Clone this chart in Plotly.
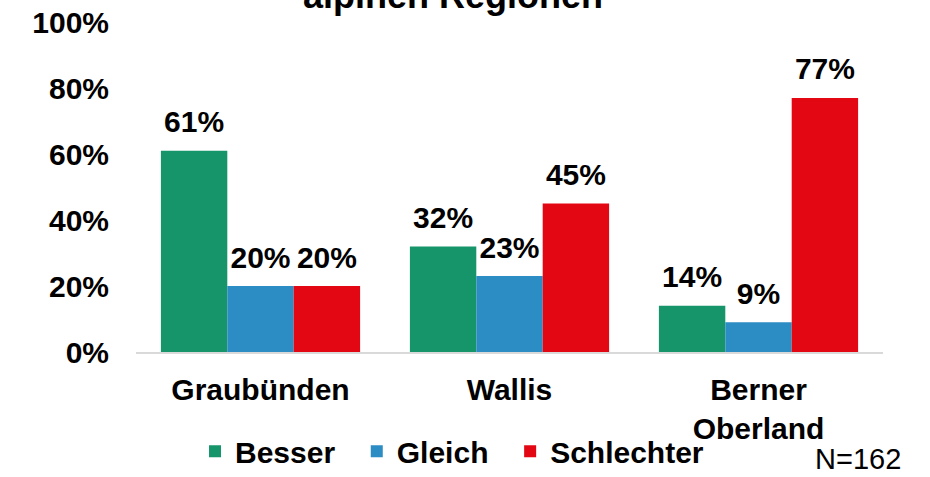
import plotly.graph_objects as go

categories = ["Graubünden", "Wallis", "Berner<br>Oberland"]
series_names = ["Besser", "Gleich", "Schlechter"]
besser = [61, 32, 14]
gleich = [20, 23, 9]
schlechter = [20, 45, 77]
tick_values = [0, 20, 40, 60, 80, 100]
tick_labels = ["0%", "20%", "40%", "60%", "80%", "100%"]
colors = ["#16956B", "#2B8DC4", "#E30713"]
title_text = "alpinen Regionen"
note_text = "N=162"

FONT = "Liberation Sans, Arial, sans-serif"
NB = "\u00a0"
legend_pad = [NB * 2, NB * 2, ""]

fig = go.Figure()
for name, vals, col, pad in zip(series_names, [besser, gleich, schlechter], colors, legend_pad):
    fig.add_trace(go.Bar(
        x=categories, y=vals, name=name + pad,
        marker=dict(color=col, line=dict(width=0)),
        offsetgroup=name,
    ))
for name, vals in zip(series_names, [besser, gleich, schlechter]):
    fig.add_trace(go.Scatter(
        x=categories, y=vals, mode="markers+text",
        text=[f"{v}%" for v in vals], textposition="top center",
        marker=dict(size=16, opacity=0),
        textfont=dict(family=FONT, size=30, color="black", weight="bold"),
        offsetgroup=name, showlegend=False, hoverinfo="skip",
    ))

fig.update_layout(
    width=930, height=477,
    margin=dict(l=136, r=47, t=22, b=125, autoexpand=False),
    paper_bgcolor="white", plot_bgcolor="white",
    barmode="group", bargap=0.2, bargroupgap=0,
    scattermode="group", scattergap=0.2,
    font=dict(family=FONT, color="black"),
    showlegend=True,
    legend=dict(
        orientation="h", x=0.079, xanchor="left",
        yref="container", y=0.054, yanchor="middle",
        font=dict(family=FONT, size=30, color="black", weight="bold"),
        bgcolor="rgba(0,0,0,0)", traceorder="normal",
    ),
    xaxis=dict(
        showline=True, linecolor="#D9D9D9", linewidth=2, ticks="",
        showgrid=False, zeroline=False, automargin=False,
        tickfont=dict(family=FONT, size=30, color="black", weight="bold"),
        ticklabelstandoff=10,
    ),
    yaxis=dict(
        range=[0, 100], tickvals=tick_values, ticktext=tick_labels,
        showgrid=False, zeroline=False, showline=False, ticks="",
        automargin=False,
        tickfont=dict(family=FONT, size=30, color="black", weight="bold"),
        ticklabelstandoff=26,
    ),
)

fig.add_annotation(
    text=title_text, xref="paper", yref="paper", x=0.424, y=1.012,
    xanchor="center", yanchor="bottom", showarrow=False,
    font=dict(family=FONT, size=36, color="black", weight="bold"),
)
fig.add_annotation(
    text=note_text, xref="paper", yref="paper", x=1.027, y=-0.38,
    xanchor="right", yanchor="bottom", showarrow=False,
    font=dict(family=FONT, size=29, color="black"),
)

fig.write_html("out.html", config={"displayModeBar": False},
               post_script="document.body.style.margin='0px';")
